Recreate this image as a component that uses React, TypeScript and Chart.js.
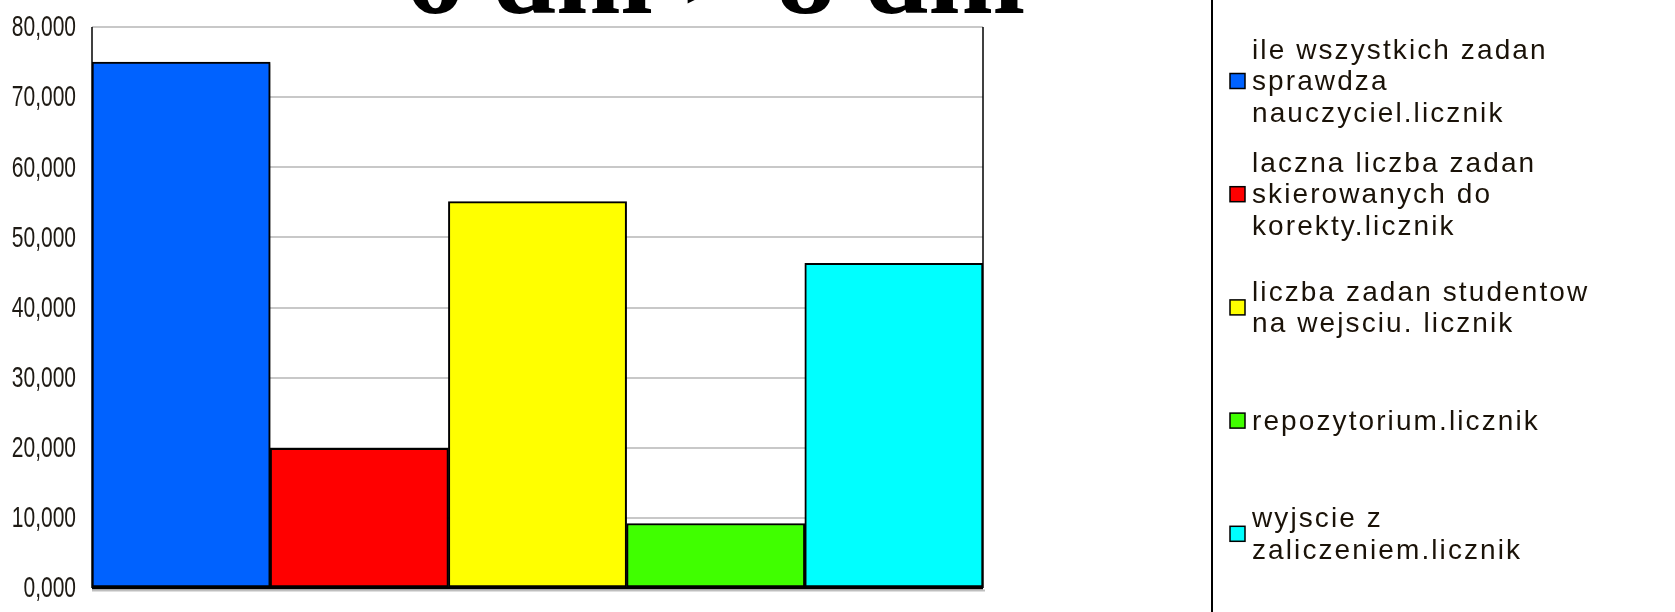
import React, { useEffect, useRef } from "react";
import { Chart, registerables } from "chart.js";

Chart.register(...registerables);

// Series names, split into the lines shown in the legend
const seriesLines: string[][] = [
  ["ile wszystkich zadan", "sprawdza", "nauczyciel.licznik"],
  ["laczna liczba zadan", "skierowanych do", "korekty.licznik"],
  ["liczba zadan studentow", "na wejsciu. licznik"],
  ["repozytorium.licznik"],
  ["wyjscie z", "zaliczeniem.licznik"],
];
const seriesValues: number[] = [75.0, 19.9, 55.1, 9.2, 46.3];
const seriesColors: string[] = ["#0062ff", "#ff0000", "#ffff00", "#40ff00", "#00ffff"];
const categories: string[] = [""];
const titleText = "6 dni > 8 dni";
const yMin = 0;
const yMax = 80;
const yStep = 10;

const W = 1675;
const H = 612;

const fmtTick = (v: number) => v.toFixed(3).replace(".", ",");

// Frame lines, condensed axis labels, title and the multi-line legend panel
const decorPlugin = {
  id: "decor",
  beforeDatasetsDraw(chart: any) {
    const ctx = chart.ctx;
    ctx.save();
    ctx.shadowColor = "rgba(0,0,0,0.35)";
    ctx.shadowBlur = 2;
    ctx.shadowOffsetX = 1;
    ctx.shadowOffsetY = 1;
  },
  afterDatasetsDraw(chart: any) {
    chart.ctx.restore();
  },
  afterDraw(chart: any) {
    const { ctx, chartArea } = chart;
    const { left, right, top, bottom } = chartArea;
    ctx.save();
    // right and left edges of the plot
    ctx.strokeStyle = "#000";
    ctx.lineWidth = 1.5;
    ctx.beginPath();
    ctx.moveTo(right, top);
    ctx.lineTo(right, bottom);
    ctx.stroke();
    ctx.beginPath();
    ctx.moveTo(left, top);
    ctx.lineTo(left, bottom);
    ctx.stroke();
    // base line with a soft shadow
    ctx.strokeStyle = "rgba(0,0,0,0.25)";
    ctx.lineWidth = 2;
    ctx.beginPath();
    ctx.moveTo(left, bottom + 2.5);
    ctx.lineTo(right + 2, bottom + 2.5);
    ctx.stroke();
    ctx.strokeStyle = "#000";
    ctx.lineWidth = 2.5;
    ctx.beginPath();
    ctx.moveTo(left, bottom);
    ctx.lineTo(right, bottom);
    ctx.stroke();

    // condensed y-axis labels, placed by the scale
    const yScale = chart.scales.y;
    ctx.fillStyle = "#1e1a14";
    ctx.font = "30px 'Liberation Sans', Arial, sans-serif";
    ctx.textAlign = "right";
    ctx.textBaseline = "middle";
    yScale.ticks.forEach((t: any) => {
      const y = yScale.getPixelForValue(t.value);
      ctx.save();
      ctx.translate(76, y);
      ctx.scale(0.7, 1);
      ctx.fillText(fmtTick(t.value), 0, 1);
      ctx.restore();
    });

    // title, mostly above the top of the canvas
    ctx.fillStyle = "#000";
    ctx.font = "bold 116px 'Liberation Serif', serif";
    ctx.textAlign = "right";
    ctx.textBaseline = "alphabetic";
    ctx.fillText(titleText, 1025, 13);

    // legend panel
    const panelX = 1212;
    ctx.strokeStyle = "#000";
    ctx.lineWidth = 2;
    ctx.beginPath();
    ctx.moveTo(panelX, 0);
    ctx.lineTo(panelX, H);
    ctx.stroke();

    const boxX = 1230;
    const box = 15;
    const textX = 1252;
    const lineH = 31.5;
    const firstY = 81;
    const stepY = 113.2;
    ctx.font = "28px 'Liberation Sans', Arial, sans-serif";
    (ctx as any).letterSpacing = "2.1px";
    ctx.textAlign = "left";
    ctx.textBaseline = "middle";
    chart.data.datasets.forEach((ds: any, i: number) => {
      const cy = firstY + i * stepY;
      ctx.fillStyle = ds.backgroundColor;
      ctx.fillRect(boxX, cy - box / 2, box, box);
      ctx.strokeStyle = "#000";
      ctx.lineWidth = 1.5;
      ctx.strokeRect(boxX, cy - box / 2, box, box);
      const lines: string[] = seriesLines[i];
      ctx.fillStyle = "#1a1208";
      lines.forEach((ln, j) => {
        const y = cy + (j - (lines.length - 1) / 2) * lineH;
        ctx.fillText(ln, textX, y + 1.5);
      });
    });
    (ctx as any).letterSpacing = "0px";
    ctx.restore();
  },
};

export default function App() {
  const canvasRef = useRef<HTMLCanvasElement | null>(null);

  useEffect(() => {
    const canvas = canvasRef.current;
    if (!canvas) return;
    const chart = new Chart(canvas, {
      type: "bar",
      data: {
        labels: categories,
        datasets: seriesLines.map((lines, i) => ({
          label: lines.join(" "),
          data: [seriesValues[i]],
          backgroundColor: seriesColors[i],
          borderColor: "#000",
          borderWidth: 2,
          borderSkipped: false,
          barPercentage: 1,
          categoryPercentage: 1,
        })),
      },
      options: {
        responsive: false,
        maintainAspectRatio: false,
        animation: false,
        layout: { padding: { left: 0, right: W - 983, top: 27, bottom: 24 } },
        plugins: {
          legend: { display: false },
          title: { display: false },
          tooltip: { enabled: false },
        },
        scales: {
          x: { display: false },
          y: {
            min: yMin,
            max: yMax,
            afterFit(scale: any) {
              scale.width = 92;
            },
            border: { display: false },
            grid: { color: "#c8c8c8", lineWidth: 2, drawTicks: false },
            ticks: {
              stepSize: yStep,
              display: false,
            },
          },
        },
      },
      plugins: [decorPlugin],
    });
    return () => chart.destroy();
  }, []);

  return (
    <div style={{ position: "fixed", left: 0, top: 0, width: W, height: H, background: "#fff" }}>
      <canvas ref={canvasRef} width={W} height={H} style={{ display: "block" }} />
    </div>
  );
}
